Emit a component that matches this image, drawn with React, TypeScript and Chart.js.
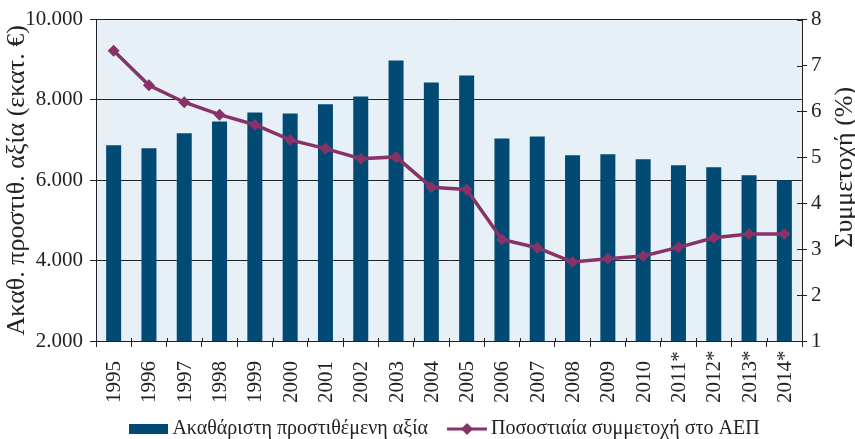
import { useEffect, useRef } from "react";
import { Chart, registerables } from "chart.js";

Chart.register(...registerables);

const years = ["1995", "1996", "1997", "1998", "1999", "2000", "2001", "2002", "2003", "2004", "2005", "2006", "2007", "2008", "2009", "2010", "2011*", "2012*", "2013*", "2014*"];
const grossValueAdded = [6870, 6795, 7170, 7466, 7690, 7665, 7890, 8087, 8981, 8435, 8609, 7043, 7093, 6621, 6646, 6522, 6373, 6323, 6124, 6000];
const gdpShare = [7.32, 6.57, 6.2, 5.93, 5.71, 5.38, 5.19, 4.97, 5.01, 4.35, 4.3, 3.21, 3.03, 2.72, 2.79, 2.85, 3.04, 3.25, 3.33, 3.33];

const barLabel = "Ακαθάριστη προστιθέμενη αξία";
const lineLabel = "Ποσοστιαία συμμετοχή στο ΑΕΠ";
const leftTitle = "Ακαθ. προστιθ. αξία (εκατ. €)";
const rightTitle = "Συμμετοχή (%)";

const BAR_COLOR = "#004a73";
const LINE_COLOR = "#863368";
const BG_COLOR = "#e8f0f7";
const AXIS_COLOR = "#222222";
const TEXT_COLOR = "#222222";
const FONT = "'Liberation Serif', serif";

const fmt = (v: number) => String(v).replace(/\B(?=(\d{3})+(?!\d))/g, ".");

export default function App() {
  const ref = useRef<HTMLCanvasElement | null>(null);

  useEffect(() => {
    if (!ref.current) return;

    const barImg = document.createElement("canvas");
    barImg.width = 39;
    barImg.height = 10;
    {
      const c = barImg.getContext("2d")!;
      c.fillStyle = BAR_COLOR;
      c.fillRect(0, 0, 39, 10);
    }
    const lineImg = document.createElement("canvas");
    lineImg.width = 40;
    lineImg.height = 14;
    {
      const c = lineImg.getContext("2d")!;
      c.strokeStyle = LINE_COLOR;
      c.lineWidth = 3;
      c.beginPath();
      c.moveTo(0, 7);
      c.lineTo(40, 7);
      c.stroke();
      c.fillStyle = LINE_COLOR;
      c.beginPath();
      c.moveTo(20, 1);
      c.lineTo(26, 7);
      c.lineTo(20, 13);
      c.lineTo(14, 7);
      c.closePath();
      c.fill();
    }

    const bgPlugin = {
      id: "bg",
      beforeDraw(chart: any) {
        const { ctx, chartArea } = chart;
        ctx.save();
        ctx.fillStyle = BG_COLOR;
        ctx.fillRect(chartArea.left, chartArea.top, chartArea.right - chartArea.left, chartArea.bottom - chartArea.top);
        ctx.restore();
      },
    };

    const legendPlacePlugin = {
      id: "legendPlace",
      afterLayout(chart: any) {
        const lg = chart.legend;
        if (!lg) return;
        const dy = -21;
        const dx = -2;
        lg.top += dy;
        lg.bottom += dy;
        lg.left += dx;
        lg.right += dx;
      },
    };

    const extrasPlugin = {
      id: "extras",
      afterDraw(chart: any) {
        const { ctx, chartArea } = chart;
        const x = chart.scales.x;
        const y1 = chart.scales.y1;
        ctx.save();
        ctx.strokeStyle = AXIS_COLOR;
        ctx.lineWidth = 1;
        const half = (x.getPixelForValue(1) - x.getPixelForValue(0)) / 2;
        for (let i = 0; i <= years.length; i++) {
          const px = Math.round(x.getPixelForValue(i) - half) + 0.5;
          ctx.beginPath();
          ctx.moveTo(px, chartArea.bottom);
          ctx.lineTo(px, chartArea.bottom - 3);
          ctx.stroke();
        }
        y1.ticks.forEach((t: any) => {
          const py = Math.round(y1.getPixelForValue(t.value)) + 0.5;
          ctx.beginPath();
          ctx.moveTo(chartArea.right, py);
          ctx.lineTo(chartArea.right - 5, py);
          ctx.stroke();
        });
        ctx.fillStyle = TEXT_COLOR;
        // year labels, rotated, bottom-aligned
        ctx.font = `21px ${FONT}`;
        ctx.textAlign = "left";
        ctx.textBaseline = "middle";
        years.forEach((lab, i) => {
          ctx.save();
          ctx.translate(x.getPixelForValue(i) + 1, chartArea.bottom + 62);
          ctx.rotate(-Math.PI / 2);
          ctx.fillText(lab, 0, 0);
          ctx.restore();
        });
        // right axis title, reading bottom to top
        ctx.font = `26px ${FONT}`;
        ctx.textAlign = "center";
        ctx.translate(y1.right - 10, (chartArea.top + chartArea.bottom) / 2 - 13);
        ctx.rotate(-Math.PI / 2);
        ctx.fillText(rightTitle, 0, 0);
        ctx.restore();
      },
    };

    const chart = new Chart(ref.current, {
      type: "bar",
      data: {
        labels: years,
        datasets: [
          {
            type: "bar",
            label: barLabel,
            data: grossValueAdded,
            backgroundColor: BAR_COLOR,
            borderWidth: 0,
            yAxisID: "y",
            categoryPercentage: 1,
            barPercentage: 0.425,
            order: 2,
          } as any,
          {
            type: "line",
            label: lineLabel,
            data: gdpShare,
            borderColor: LINE_COLOR,
            backgroundColor: LINE_COLOR,
            borderWidth: 3.5,
            pointStyle: "rectRot",
            pointRadius: 6,
            pointHoverRadius: 6,
            pointBackgroundColor: LINE_COLOR,
            pointBorderColor: LINE_COLOR,
            pointBorderWidth: 0,
            tension: 0,
            yAxisID: "y1",
            order: 1,
          } as any,
        ],
      },
      options: {
        responsive: false,
        animation: false,
        layout: { padding: { top: 18, left: 0, right: 0, bottom: -31 } },
        plugins: {
          tooltip: { enabled: false },
          legend: {
            position: "bottom",
            fullSize: false,
            labels: {
              usePointStyle: true,
              pointStyleWidth: 28,
              padding: 25,
              color: TEXT_COLOR,
              font: { family: FONT, size: 20 },
              generateLabels: () => [
                { text: barLabel, pointStyle: barImg, fillStyle: BAR_COLOR, strokeStyle: BAR_COLOR, lineWidth: 0, datasetIndex: 0, hidden: false, fontColor: TEXT_COLOR } as any,
                { text: lineLabel, pointStyle: lineImg, fillStyle: LINE_COLOR, strokeStyle: LINE_COLOR, lineWidth: 0, datasetIndex: 1, hidden: false, fontColor: TEXT_COLOR } as any,
              ],
            },
          },
        },
        scales: {
          x: {
            offset: true,
            grid: { offset: true, drawOnChartArea: false, drawTicks: true, tickLength: 6, color: AXIS_COLOR },
            border: { color: AXIS_COLOR, width: 1 },
            ticks: { display: false, autoSkip: false },
            afterFit: (s: any) => {
              s.height = 74;
            },
          },
          y: {
            position: "left",
            min: 2000,
            max: 10000,
            ticks: {
              stepSize: 2000,
              padding: 7,
              color: TEXT_COLOR,
              font: { family: FONT, size: 21 },
              callback: (v: any) => fmt(Number(v)),
            },
            grid: { color: AXIS_COLOR, tickLength: 6, lineWidth: 1 },
            border: { color: AXIS_COLOR, width: 1 },
            title: {
              display: true,
              text: leftTitle,
              color: TEXT_COLOR,
              font: { family: FONT, size: 26 },
              padding: { top: 2, bottom: 0 },
            },
            afterFit: (s: any) => {
              s.width = 96;
            },
          },
          y1: {
            position: "right",
            min: 1,
            max: 8,
            ticks: {
              stepSize: 1,
              padding: 4,
              color: TEXT_COLOR,
              font: { family: FONT, size: 21 },
            },
            grid: { drawOnChartArea: false, color: AXIS_COLOR, tickLength: 5 },
            border: { color: AXIS_COLOR, width: 1 },
            afterFit: (s: any) => {
              s.width = 53;
            },
          },
        },
      },
      plugins: [bgPlugin, legendPlacePlugin, extrasPlugin],
    });

    return () => chart.destroy();
  }, []);

  return (
    <div style={{ position: "fixed", left: 0, top: 0, width: 855, height: 439, background: "#fff" }}>
      <canvas ref={ref} width={855} height={439} />
    </div>
  );
}
